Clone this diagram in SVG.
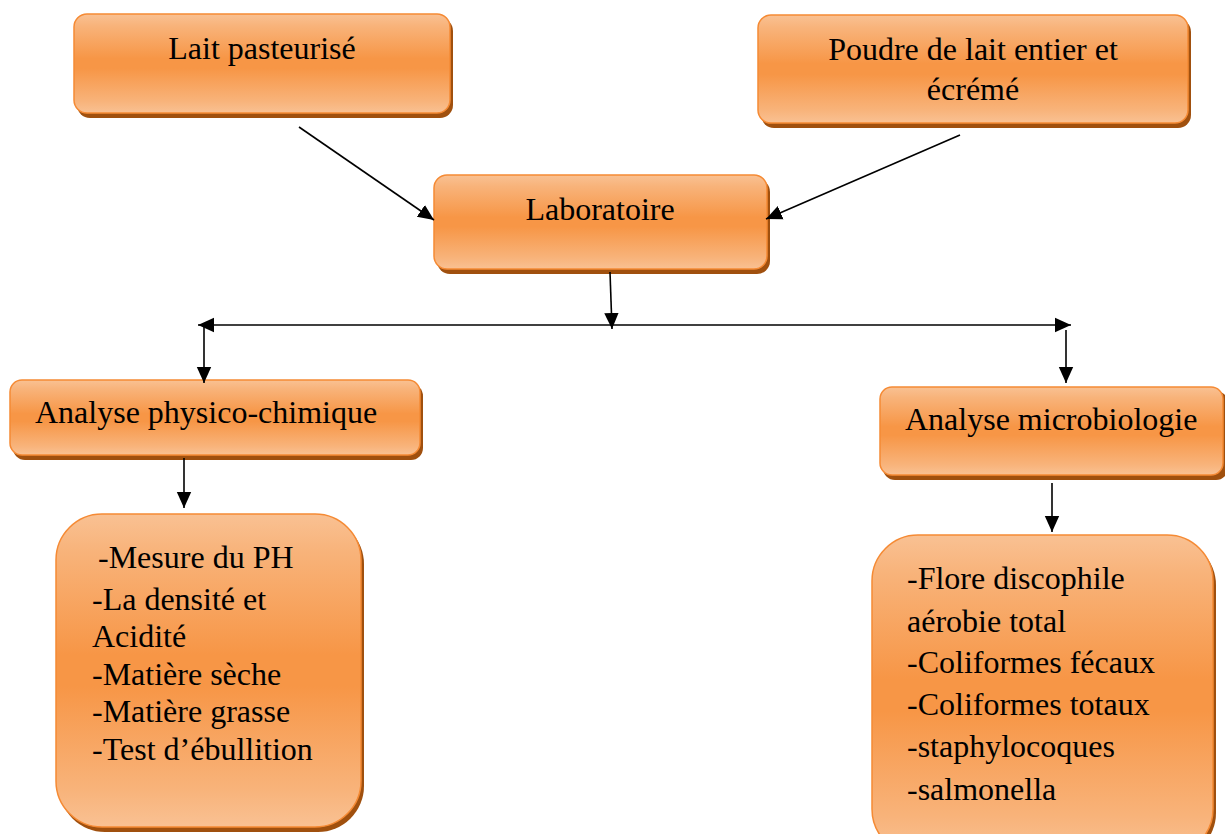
<svg xmlns="http://www.w3.org/2000/svg" width="1225" height="834" viewBox="0 0 1225 834">
<defs>
<linearGradient id="og" x1="0" y1="0" x2="0" y2="1">
<stop offset="0" stop-color="#F9C193"/>
<stop offset="0.12" stop-color="#F8B37A"/>
<stop offset="0.45" stop-color="#F79646"/>
<stop offset="0.55" stop-color="#F79646"/>
<stop offset="0.88" stop-color="#F8B37A"/>
<stop offset="1" stop-color="#F9C193"/>
</linearGradient>
<marker id="ah" viewBox="0 0 10 10" refX="10" refY="5" markerWidth="16" markerHeight="16" markerUnits="userSpaceOnUse" orient="auto">
<path d="M0,0.5 L10,5 L0,9.5 z" fill="#000"/>
</marker>
<marker id="ahs" viewBox="0 0 10 10" refX="0" refY="5" markerWidth="16" markerHeight="16" markerUnits="userSpaceOnUse" orient="auto">
<path d="M10,0.5 L0,5 L10,9.5 z" fill="#000"/>
</marker>
</defs>
<style>
.sh{fill:#A0500E}
.bx{fill:url(#og);stroke:#F58A34;stroke-width:1.5}
.t{font-family:"Liberation Serif","Times New Roman",serif;font-size:32px;fill:#000}
.c{stroke:#000;stroke-width:1.6;fill:none}
</style>
<rect width="1225" height="834" fill="#fff"/>
<g id="n-lait">
<rect class="sh" x="77" y="18" width="376" height="100" rx="13"/>
<rect class="bx" x="74" y="14" width="376" height="99" rx="13"/>
<text class="t" x="262" y="59" text-anchor="middle">Lait pasteurisé</text>
</g>
<g id="n-poudre">
<rect class="sh" x="761" y="19" width="430" height="109" rx="13"/>
<rect class="bx" x="758" y="15" width="430" height="108" rx="13"/>
<text class="t" x="973" y="60" text-anchor="middle">Poudre de lait entier et</text>
<text class="t" x="973" y="100" text-anchor="middle">écrémé</text>
</g>
<g id="n-labo">
<rect class="sh" x="437" y="179" width="333" height="95" rx="13"/>
<rect class="bx" x="434" y="175" width="333" height="94" rx="13"/>
<text class="t" x="600" y="220" text-anchor="middle">Laboratoire</text>
</g>
<g id="n-physico">
<rect class="sh" x="13" y="384" width="410" height="76" rx="12"/>
<rect class="bx" x="10" y="380" width="410" height="75" rx="12"/>
<text class="t" x="35" y="423">Analyse physico-chimique</text>
</g>
<g id="n-micro">
<rect class="sh" x="883" y="391" width="345" height="89" rx="12"/>
<rect class="bx" x="880" y="387" width="343" height="88" rx="12"/>
<text class="t" x="905" y="430">Analyse microbiologie</text>
</g>
<g id="n-physico-list">
<rect class="sh" x="59" y="518" width="305" height="314" rx="46"/>
<rect class="bx" x="56" y="514" width="305" height="313" rx="46"/>
<text class="t" x="98" y="568">-Mesure du PH</text>
<text class="t" x="92" y="610">-La densité et</text>
<text class="t" x="92" y="647">Acidité</text>
<text class="t" x="92" y="685">-Matière sèche</text>
<text class="t" x="92" y="722">-Matière grasse</text>
<text class="t" x="92" y="760">-Test d’ébullition</text>
</g>
<g id="n-micro-list">
<rect class="sh" x="875" y="539" width="341" height="320" rx="46"/>
<rect class="bx" x="872" y="535" width="341" height="320" rx="46"/>
<text class="t" x="907" y="589">-Flore discophile</text>
<text class="t" x="907" y="632">aérobie total</text>
<text class="t" x="907" y="673">-Coliformes fécaux</text>
<text class="t" x="907" y="715">-Coliformes totaux</text>
<text class="t" x="907" y="757">-staphylocoques</text>
<text class="t" x="907" y="800">-salmonella</text>
</g>
<g id="connectors">
<line class="c" x1="299" y1="127" x2="434" y2="220" marker-end="url(#ah)"/>
<line class="c" x1="960" y1="135" x2="766" y2="219" marker-end="url(#ah)"/>
<line class="c" x1="610" y1="272" x2="612" y2="329" marker-end="url(#ah)"/>
<line class="c" x1="198" y1="325" x2="1071" y2="325" marker-start="url(#ahs)" marker-end="url(#ah)"/>
<line class="c" x1="204" y1="326" x2="204" y2="383" marker-end="url(#ah)"/>
<line class="c" x1="1066" y1="330" x2="1066" y2="383" marker-end="url(#ah)"/>
<line class="c" x1="184" y1="458" x2="184" y2="508" marker-end="url(#ah)"/>
<line class="c" x1="1052" y1="483" x2="1052" y2="532" marker-end="url(#ah)"/>
</g>
</svg>
